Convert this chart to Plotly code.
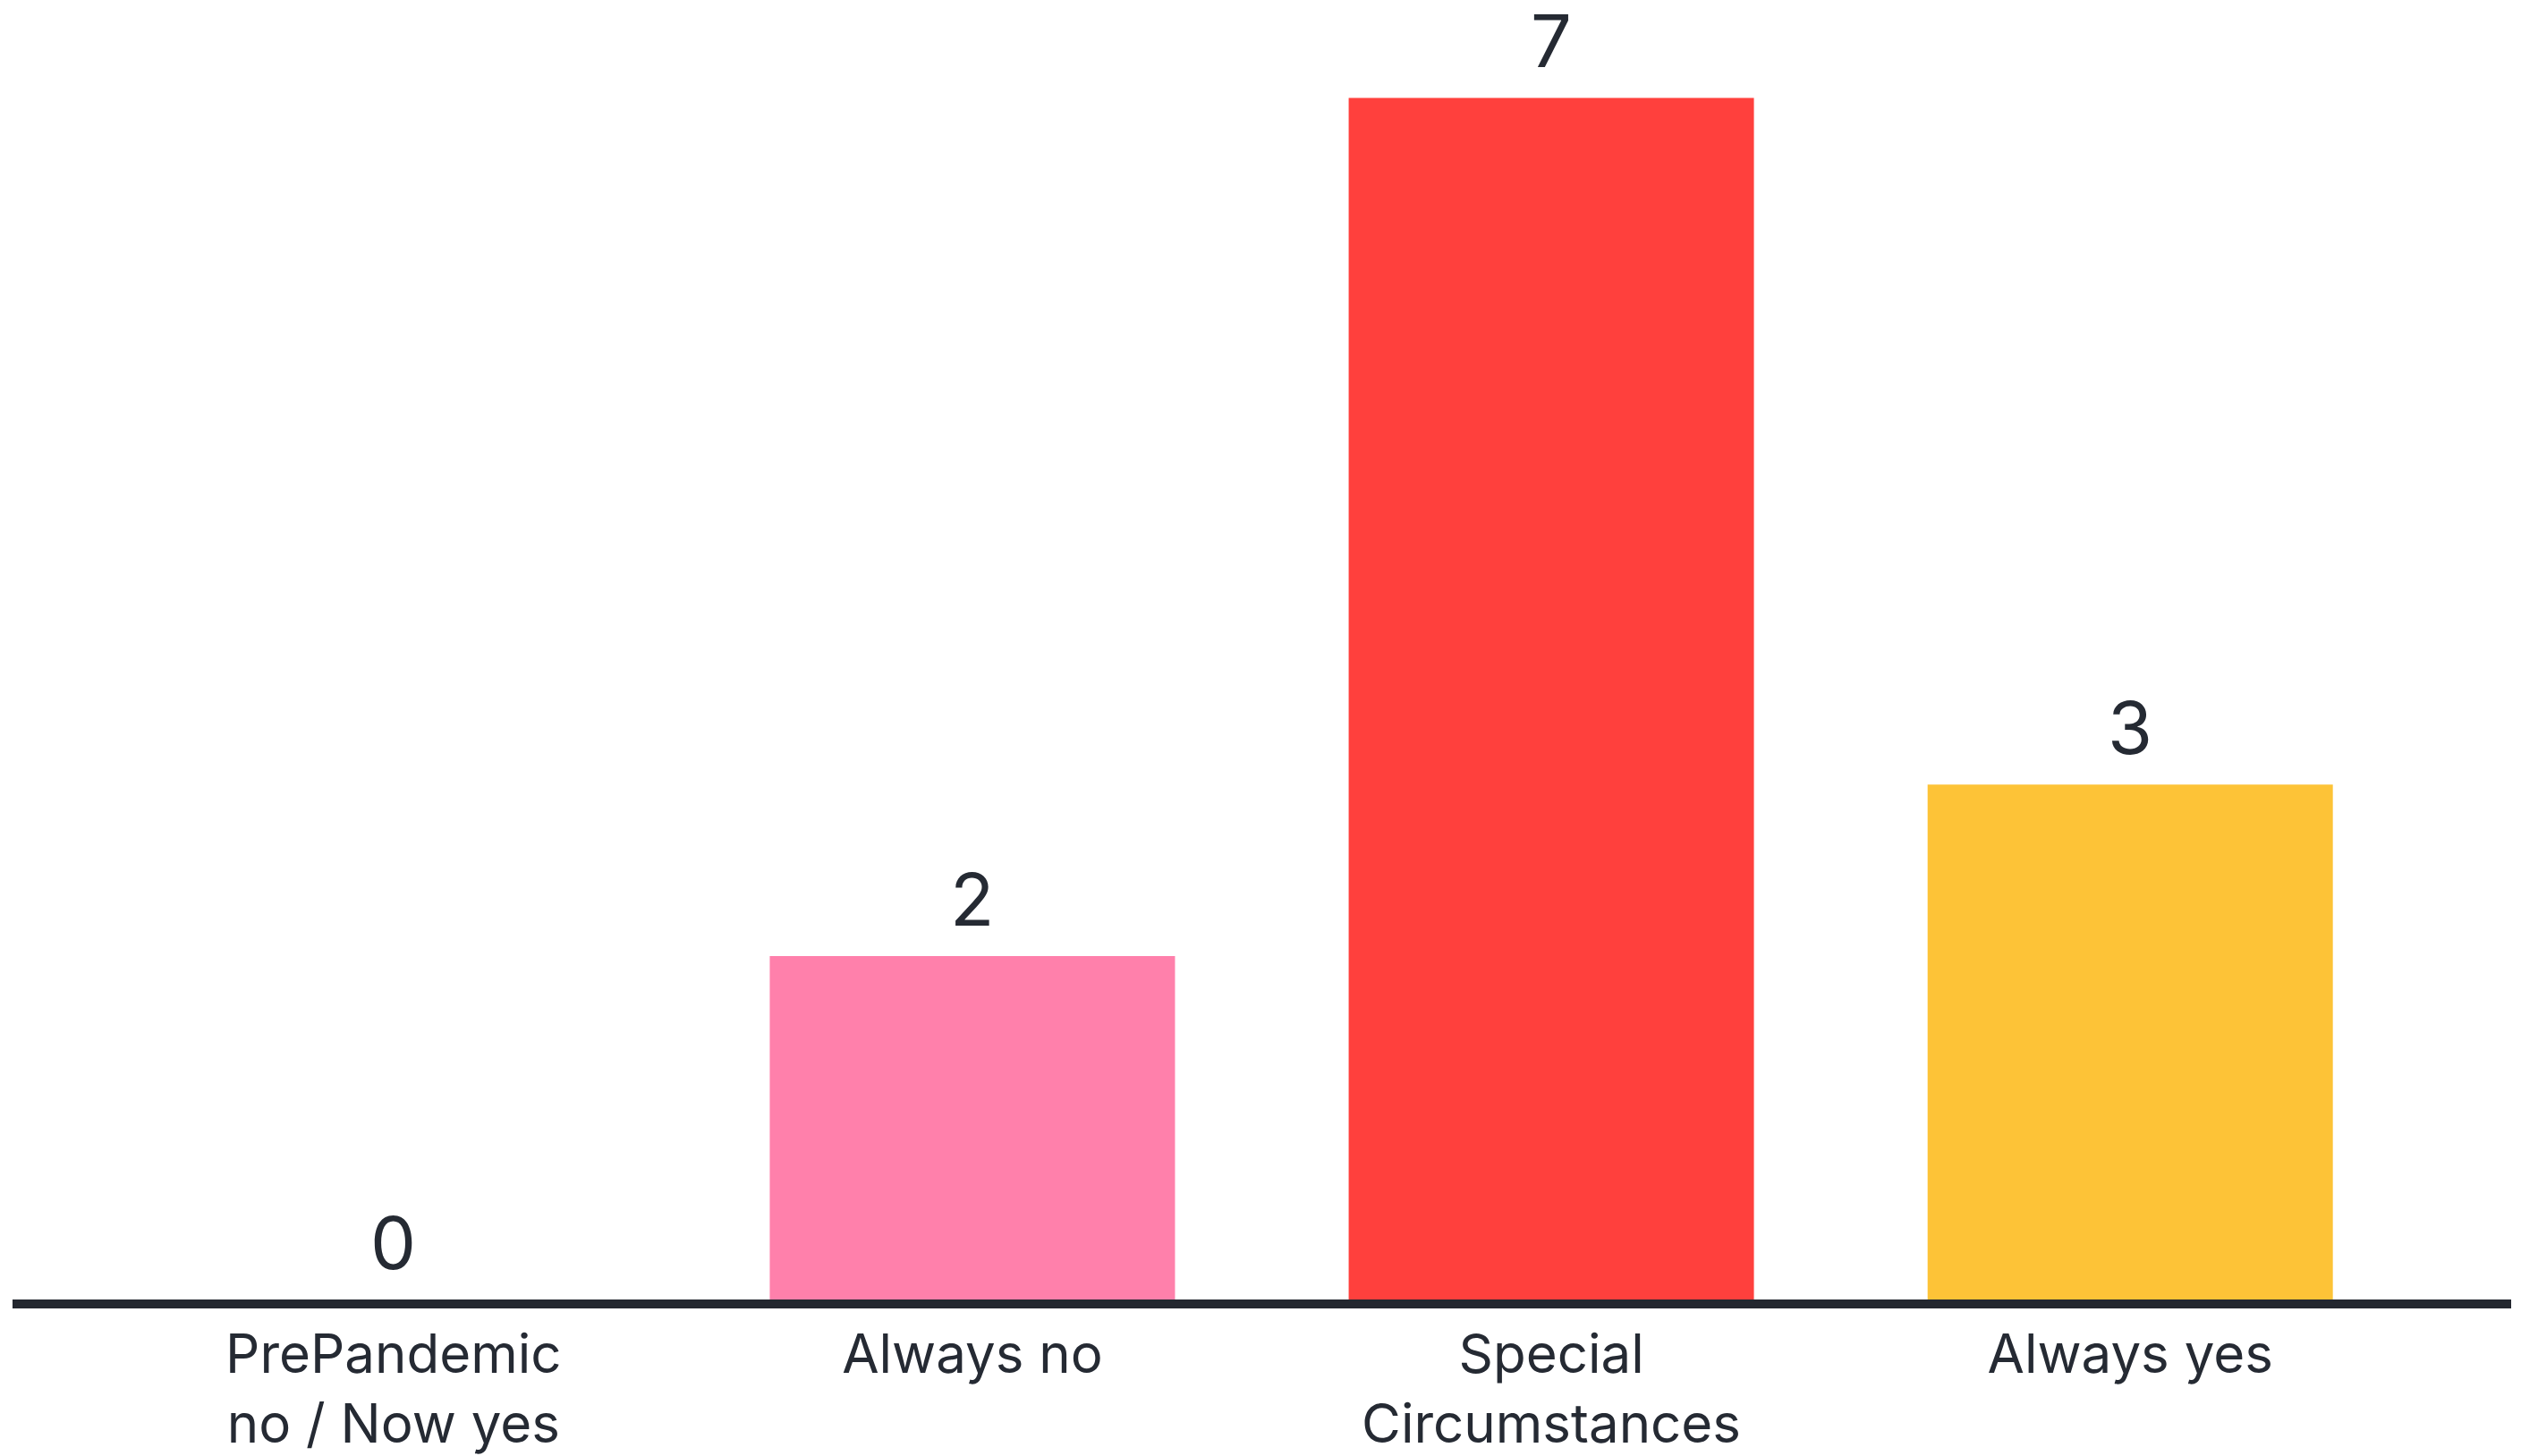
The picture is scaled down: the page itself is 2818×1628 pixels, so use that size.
import plotly.graph_objects as go

categories = ["PrePandemic no / Now yes", "Always no", "Special Circumstances", "Always yes"]
tick_labels = ["PrePandemic<br>no / Now yes", "Always no", "Special<br>Circumstances", "Always yes"]
values = [0, 2, 7, 3]
colors = ["#5b6ef5", "#FF80AB", "#FF403D", "#FDC337"]

FONT = "Inter, Lato, sans-serif"
TEXT_COLOR = "#252a33"

fig = go.Figure()
fig.add_trace(go.Bar(
    x=categories,
    y=values,
    marker=dict(color=colors, line=dict(width=0)),
    hoverinfo="skip",
    showlegend=False,
))

for c, v in zip(categories, values):
    fig.add_annotation(
        x=c, y=v, text=str(v), showarrow=False,
        yanchor="bottom", yshift=12,
        font=dict(family=FONT, size=81, color=TEXT_COLOR),
    )

fig.update_layout(
    width=2818, height=1628,
    margin=dict(l=14, r=11, t=0, b=175),
    paper_bgcolor="white", plot_bgcolor="white",
    bargap=0.3,
    font=dict(family=FONT, color=TEXT_COLOR),
)
fig.update_xaxes(
    range=[-0.658, 3.658],
    tickmode="array", tickvals=categories, ticktext=tick_labels,
    tickfont=dict(family=FONT, size=60, color=TEXT_COLOR),
    showline=True, linecolor="#23272f", linewidth=10,
    ticks="", showgrid=False, zeroline=False,
    ticklabelstandoff=0, automargin=False,
)
fig.update_yaxes(
    range=[0, 7.57], visible=False, showgrid=False, zeroline=False,
    automargin=False,
)

fig.write_html("out.html")
